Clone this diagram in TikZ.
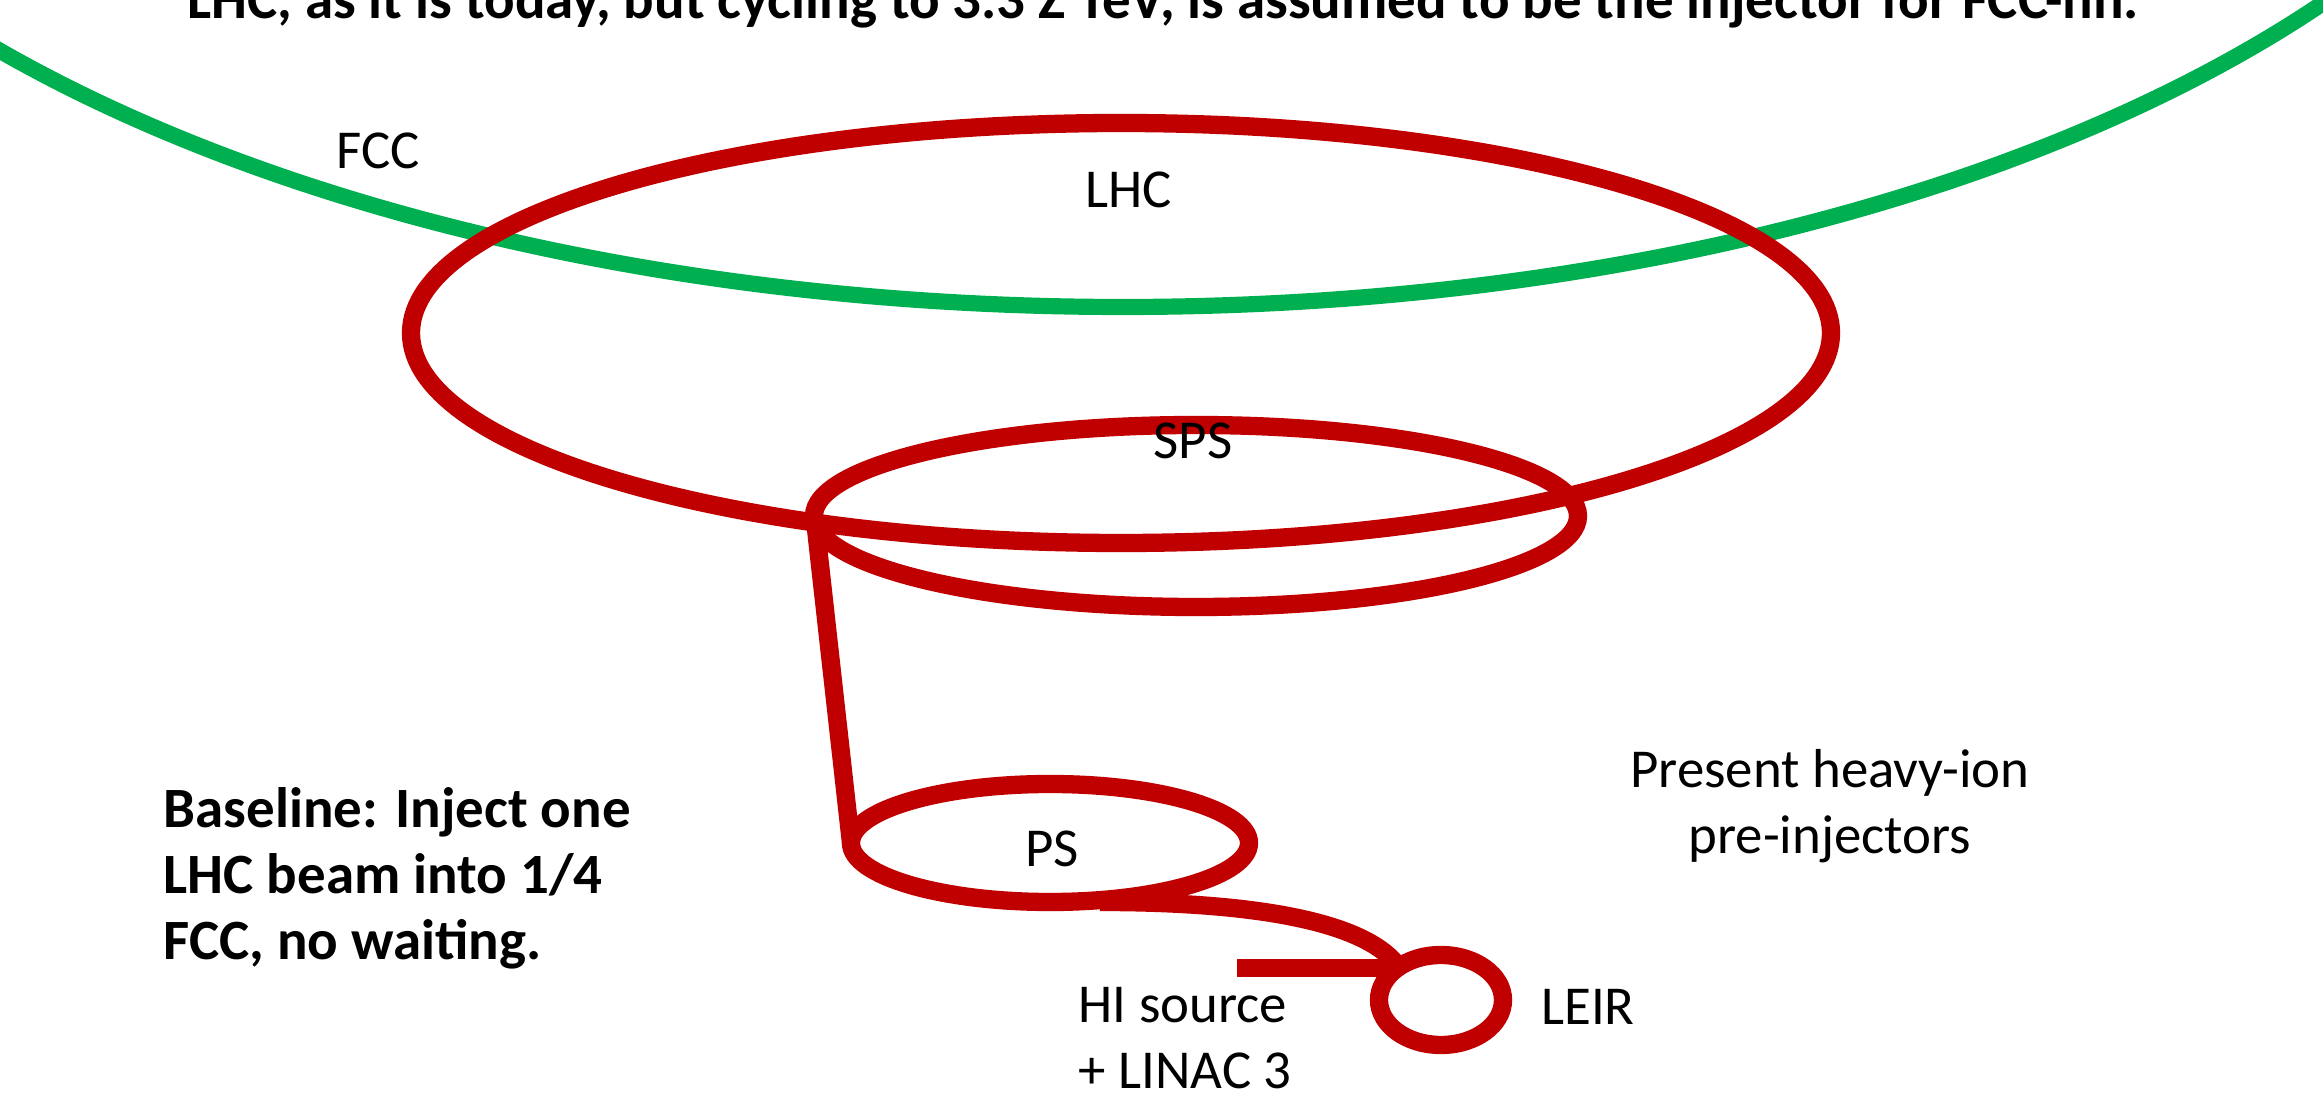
\documentclass[tikz,border=0pt]{standalone}
\usepackage{fontspec}
\setmainfont{Carlito}
\definecolor{ringred}{RGB}{192,0,0}
\definecolor{fccgreen}{RGB}{0,176,80}

\begin{document}
\begin{tikzpicture}[x=0.01cm,y=0.01cm,
  every node/.style={font=\fontsize{15.6}{18.8}\selectfont,inner sep=0pt},
  remark/.style={font=\fontsize{16.2}{18.8}\selectfont\bfseries},
  ring/.style={draw=ringred,line width=5.2pt},
  line/.style={draw=ringred,line width=5.2pt},
  bigring/.style={draw=fccgreen,line width=4.6pt}]
\clip (0,0) rectangle (2323,-1107);
% FCC: only the lower part of the tunnel is in view
\draw[bigring] (1123,453) ellipse [x radius=1500,y radius=760];
% The existing rings, largest first.
\draw[ring] (1121,-333) ellipse [x radius=710,y radius=210];
\draw[ring] (1196,-516) ellipse [x radius=382,y radius=91];
\draw[ring] (1050,-843) ellipse [x radius=199,y radius=59];
\draw[ring] (1441,-1000) ellipse [x radius=62,y radius=45];
% Transfer lines between the rings.
\coordinate (sps-ext) at (815,-520);
\coordinate (ps-inj) at (851,-843);
\coordinate (ps-ext) at (1100,-902);
\coordinate (leir-inj) at (1398,-966);
\coordinate (linac) at (1237,-968);
\draw[line] (sps-ext)--(ps-inj);
\draw[line] (ps-ext) .. controls (1280,-902) and (1370,-928) .. (leir-inj);
\draw[line] (linac)--(leir-inj|-linac);
% Ring names.
\node (fcc) at (378,-151) {FCC};
\node (lhc) at (1129,-190) {LHC};
\node (sps) at (1193,-441) {SPS};
\node (ps) at (1052,-849) {PS};
\node (leir) at (1588,-1007) {LEIR};
\node[align=left,anchor=west] (source) at (1078,-1038) {HI source\\+ LINAC 3};
\node[align=center] (pre) at (1830,-806) {Present heavy-ion\\pre-injectors};
% Remarks.
\node[remark,align=left,anchor=west] (baseline) at (163,-878)
  {Baseline: Inject one\\LHC beam into 1/4\\FCC, no waiting.};
\node[remark,anchor=base] (title) at (1163,-19)
  {LHC, as it is today, but cycling to 3.3 Z TeV, is assumed to be the injector for FCC-hh.};
\end{tikzpicture}
\end{document}
